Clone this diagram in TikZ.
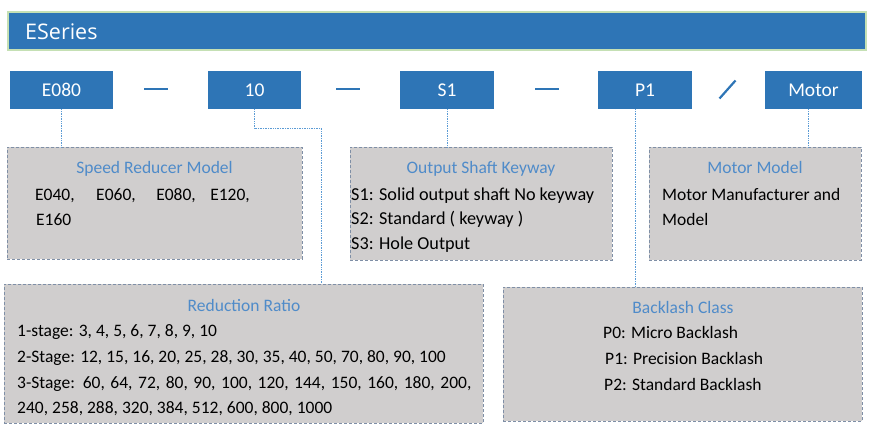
\documentclass[tikz,border=0pt]{standalone}
\usepackage{fontspec}
\setmainfont{Carlito}
\newfontfamily\bannerfont{Open Sans}
\definecolor{mblue}{HTML}{2E75B6}
\definecolor{tblue}{HTML}{4F8BC9}
\definecolor{gfill}{HTML}{D0CECE}
\definecolor{gborder}{HTML}{7F8FA6}
\definecolor{gline}{HTML}{C5E0B4}
\definecolor{cline}{HTML}{5B9BD5}
\tikzset{
  codebox/.style={fill=mblue, draw=none, inner sep=0, text=white,
    font=\fontsize{19.5}{22}\selectfont},
  infobox/.style={fill=gfill, draw=gborder, line width=0.7pt,
    dash pattern=on 3pt off 2pt, inner sep=0, anchor=north west},
  boxtitle/.style={inner sep=0, anchor=base, text=tblue,
    font=\fontsize{17.5}{21}\selectfont},
  boxtext/.style={inner sep=0, anchor=base west, text=black,
    font=\fontsize{17.5}{21}\selectfont},
  bigtext/.style={boxtext, font=\fontsize{18.2}{22}\selectfont},
  link/.style={draw=cline, line width=0.7pt, densely dotted},
  sepline/.style={draw=mblue, line width=2.8pt},
}
\begin{document}
\begin{tikzpicture}[x=1pt,y=-1pt]
\useasboundingbox (0,0) rectangle (871,431);
% banner
\node[fill=mblue, draw=gline, line width=1.5pt, inner sep=0, anchor=north west,
  minimum width=858pt, minimum height=38pt] (banner) at (7,11) {};
\node[inner sep=0, anchor=base west, text=white, font=\bannerfont\fontsize{21.5}{24}\selectfont]
  (bannertext) at (25,39.5) {ESeries};
% code boxes
\node[codebox, minimum width=103pt, minimum height=38pt] (e080) at (61.5,90) {E080};
\node[codebox, minimum width=93pt, minimum height=38pt] (r10) at (254.5,90) {10};
\node[codebox, minimum width=94pt, minimum height=38pt] (s1) at (447,90) {S1};
\node[codebox, minimum width=94pt, minimum height=38pt] (p1) at (645,90) {P1};
\node[codebox, minimum width=97pt, minimum height=38pt] (motor) at (813.5,90) {Motor};
% separators
\draw[sepline] (144,89) -- (168,89);
\draw[sepline] (336,89) -- (360,89);
\draw[sepline] (535,89) -- (559,89);
\draw[draw=mblue, line width=2.2pt] (719.5,98.5) -- (735.5,80.5);
% info boxes
\node[infobox, minimum width=295pt, minimum height=112pt] (speed) at (7,147) {};
\node[infobox, minimum width=262pt, minimum height=113pt] (keyway) at (350,147) {};
\node[infobox, minimum width=212pt, minimum height=113pt] (mmodel) at (649,147) {};
\node[infobox, minimum width=479pt, minimum height=139pt] (ratio) at (4,284) {};
\node[infobox, minimum width=359pt, minimum height=134pt] (backlash) at (503,287) {};
% connectors
\coordinate (bend) at (321,128);
\draw[link] (e080.south) -- (e080.south |- speed.north);
\draw[link] (r10.south) |- (bend) -- (bend |- ratio.north);
\draw[link] (s1.south) -- (s1.south |- keyway.north);
\draw[link] ([xshift=-10pt]p1.south) -- ([xshift=-10pt]p1.south |- backlash.north);
\draw[link] ([xshift=-5.5pt]motor.south) -- ([xshift=-5.5pt]motor.south |- mmodel.north);
% speed reducer model
\node[boxtitle] (speedt) at (154.5,173) {Speed Reducer Model};
\node[boxtext] (speed1) at (35,200) {E040,\hspace{21.5pt}E060,\hspace{20.5pt}E080,\hspace{14.5pt}E120,};
\node[boxtext] (speed2) at (36,225) {E160};
% output shaft keyway
\node[boxtitle] (keyt) at (481,173) {Output Shaft Keyway};
\node[bigtext] (key1) at (351,200) {S1: Solid output shaft No keyway};
\node[bigtext] (key2) at (351,224.5) {S2: Standard ( keyway )};
\node[bigtext] (key3) at (351,249.5) {S3: Hole Output};
% motor model
\node[boxtitle] (motort) at (755,173) {Motor Model};
\node[boxtext] (motor1) at (662,200) {Motor Manufacturer and};
\node[boxtext] (motor2) at (662,225) {Model};
% reduction ratio
\node[boxtitle] (ratiot) at (244,311) {Reduction Ratio};
\node[boxtext] (ratio1) at (17,336) {1-stage: 3, 4, 5, 6, 7, 8, 9, 10};
\node[boxtext] (ratio2) at (17,362) {2-Stage: 12, 15, 16, 20, 25, 28, 30, 35, 40, 50, 70, 80, 90, 100};
\node[boxtext] (ratio3) at (17,388) {\makebox[454pt][s]{3-Stage: 60, 64, 72, 80, 90, 100, 120, 144, 150, 160, 180, 200,}};
\node[boxtext] (ratio4) at (17,413.5) {240, 258, 288, 320, 384, 512, 600, 800, 1000};
% backlash class
\node[boxtitle] (backt) at (683,313) {Backlash Class};
\node[boxtext] (back1) at (603,338) {P0: Micro Backlash};
\node[boxtext] (back2) at (605,364.5) {P1: Precision Backlash};
\node[boxtext] (back3) at (604,390.5) {P2: Standard Backlash};
\end{tikzpicture}
\end{document}
